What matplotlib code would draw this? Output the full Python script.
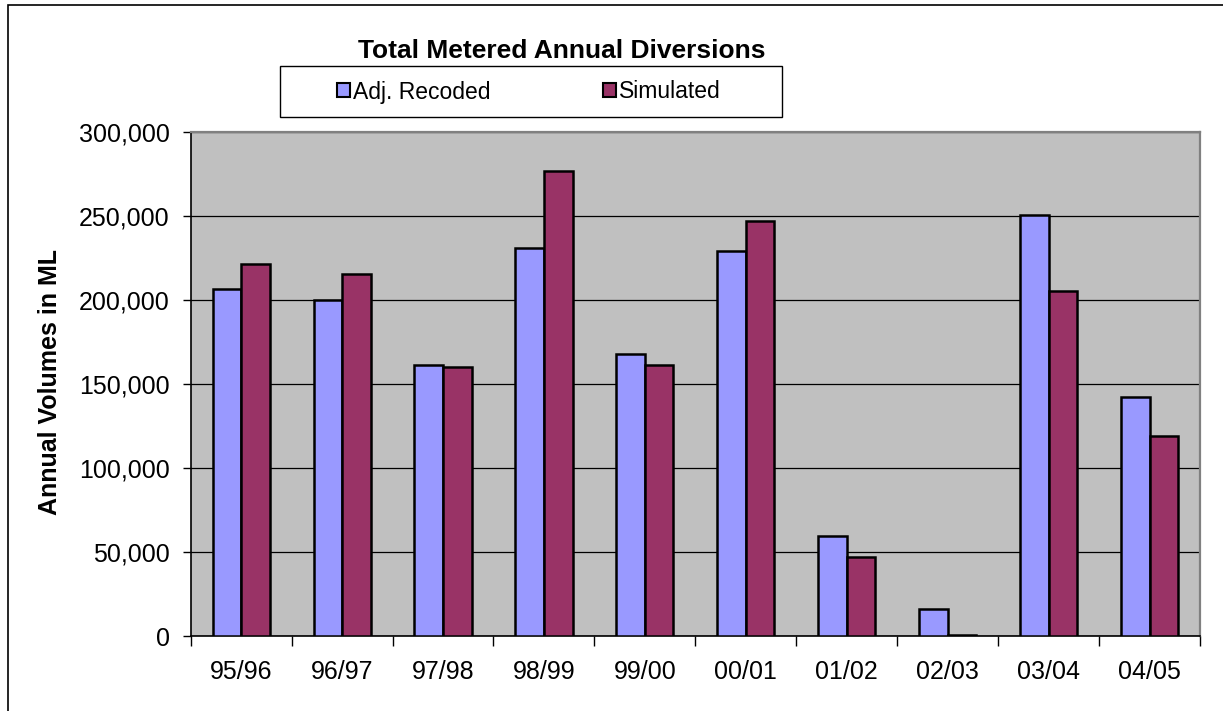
import matplotlib
matplotlib.use("Agg")
import matplotlib.pyplot as plt
from matplotlib.patches import Rectangle, Patch
from matplotlib.ticker import FuncFormatter, FixedLocator
import numpy as np

plt.rcParams['font.family'] = ['Liberation Sans', 'DejaVu Sans']

seasons = ["95/96", "96/97", "97/98", "98/99", "99/00",
           "00/01", "01/02", "02/03", "03/04", "04/05"]
adj_recoded = [206500, 200200, 161300, 231100, 168000,
               229300, 59700, 16400, 251000, 142400]
simulated = [221600, 215700, 160300, 277000, 161500,
             247400, 47000, 800, 205700, 119200]
y_ticks = [0, 50000, 100000, 150000, 200000, 250000, 300000]

blue = "#9999FF"
plum = "#993366"

W, H = 1223, 711
fig = plt.figure(figsize=(W / 100, H / 100), dpi=100)
fig.patch.set_facecolor("white")

ax = fig.add_axes([190.7 / W, 1 - 636.3 / H, (1200 - 190.7) / W, (636.3 - 132.3) / H])
ax.set_facecolor("#C0C0C0")

x = np.arange(len(seasons))
bw = 0.283
ax.bar(x - bw / 2, adj_recoded, bw, color=blue, edgecolor="black", linewidth=1.8, zorder=3)
ax.bar(x + bw / 2, simulated, bw, color=plum, edgecolor="black", linewidth=1.8, zorder=3)

ax.set_xlim(-0.5, len(seasons) - 0.5)
ax.set_ylim(0, 300000)

ax.set_yticks(y_ticks)
ax.yaxis.set_major_formatter(FuncFormatter(lambda v, p: f"{int(v):,}"))
ax.tick_params(axis="y", direction="out", length=6, width=1, color="black",
               labelsize=18, pad=9)
ax.yaxis.grid(True, color="black", linewidth=0.9, zorder=1)
ax.set_axisbelow(True)

# category boundaries get tick marks, labels sit at centres
ax.xaxis.set_major_locator(FixedLocator(np.arange(-0.5, len(seasons), 1.0)))
ax.xaxis.set_major_formatter(FuncFormatter(lambda v, p: ""))
ax.xaxis.set_minor_locator(FixedLocator(x))
ax.set_xticklabels(seasons, minor=True)
ax.tick_params(axis="x", which="major", direction="out", length=7, width=1, color="black")
ax.tick_params(axis="x", which="minor", length=0, labelsize=18, pad=17)

for side in ("top", "right"):
    ax.spines[side].set_color("#808080")
    ax.spines[side].set_linewidth(1.6)
for side in ("left", "bottom"):
    ax.spines[side].set_color("black")
    ax.spines[side].set_linewidth(1.2)

fig.text(1 - (W - 561.5) / W, 1 - 57.5 / H, "Total Metered Annual Diversions",
         ha="center", va="baseline", fontsize=19, fontweight="bold")

fig.text(50 / W, 1 - 382 / H, "Annual Volumes in ML", rotation=90,
         ha="center", va="center", fontsize=18, fontweight="bold")

# legend box
fig.patches.append(Rectangle((280 / W, 1 - 117 / H), 502 / W, 51 / H,
                             transform=fig.transFigure, facecolor="white",
                             edgecolor="black", linewidth=1.0, zorder=2))
handles = [Patch(facecolor=blue, edgecolor="black", linewidth=1.5),
           Patch(facecolor=plum, edgecolor="black", linewidth=1.5)]
leg = fig.legend(handles, ["Adj. Recoded", "Simulated"], ncol=2, frameon=False,
                 loc="center", bbox_to_anchor=(529 / W, 1 - 92 / H),
                 fontsize=16.5, handlelength=0.55, handleheight=0.55,
                 handletextpad=0.15, columnspacing=4.9, borderpad=0)
leg.set_zorder(3)

# outer chart border
fig.patches.append(Rectangle((8 / W, -0.1), 1.2, 1.1 - 5 / H,
                             transform=fig.transFigure, facecolor="none",
                             edgecolor="black", linewidth=1.2, zorder=1))

fig.savefig("out.png", dpi=100)
